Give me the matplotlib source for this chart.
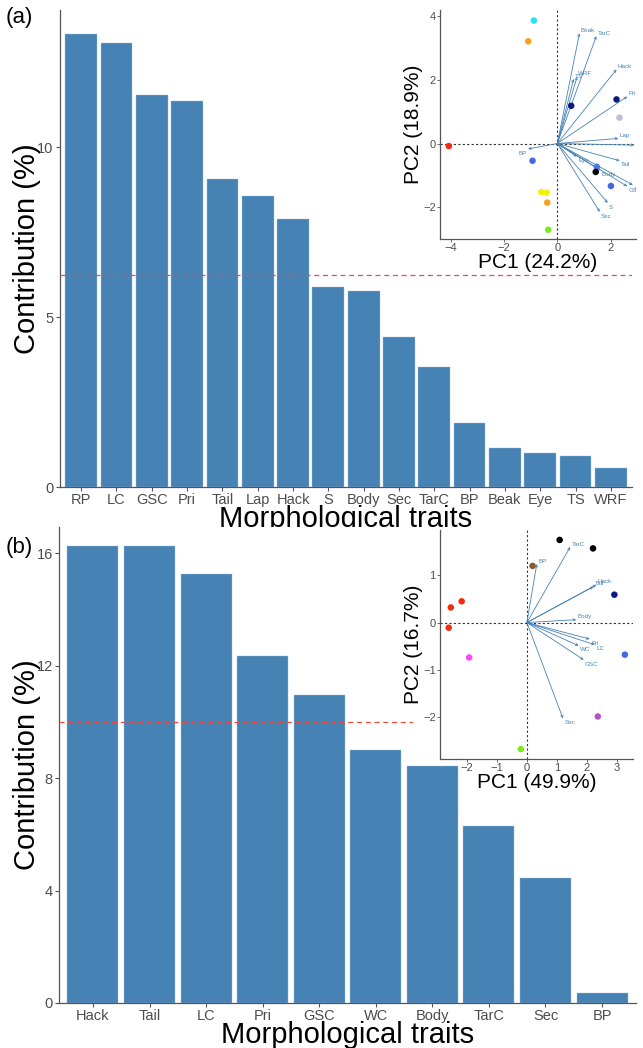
import numpy as np
import matplotlib.pyplot as plt
from matplotlib.patches import Rectangle

plt.rcParams['font.family'] = ['Liberation Sans', 'DejaVu Sans']

# panel (a) contributions
traits_a = ['RP', 'LC', 'GSC', 'Pri', 'Tail', 'Lap', 'Hack', 'S', 'Body', 'Sec',
            'TarC', 'BP', 'Beak', 'Eye', 'TS', 'WRF']
contrib_a = [13.33, 13.06, 11.53, 11.35, 9.07, 8.56, 7.88, 5.89, 5.76, 4.42,
             3.54, 1.87, 1.14, 0.99, 0.91, 0.55]

# panel (b) contributions
traits_b = ['Hack', 'Tail', 'LC', 'Pri', 'GSC', 'WC', 'Body', 'TarC', 'Sec', 'BP']
contrib_b = [16.26, 16.26, 15.26, 12.36, 10.96, 9.0, 8.45, 6.29, 4.44, 0.34]

# PCA inset (a): individuals
pc1_a = [-0.88, -1.09, 0.52, 2.22, 2.33, -4.07, -0.93, 1.48, 1.44, 2.01, -0.60, -0.40, -0.38, -0.34]
pc2_a = [3.85, 3.20, 1.18, 1.38, 0.81, -0.08, -0.54, -0.73, -0.89, -1.33, -1.52, -1.54, -1.85, -2.70]
col_a = ['#27E3EE', '#F8A01C', '#0B1A82', '#0B1A82', '#C6B7D9', '#F52A10', '#4468DE',
         '#4A78E2', '#000000', '#4468DE', '#F4F20A', '#F4F20A', '#F8A01C', '#78EC1A']
# PCA inset (a): variable loadings
var_a = ['Beak', 'TarC', 'TS', 'WRF', 'Hack', 'Pri', 'Lap', 'RP', 'BP', 'Tail',
         'Eye', 'Body', 'LC', 'GSC', 'S', 'Sec']
load1_a = [0.83, 1.46, 0.61, 0.74, 2.22, 2.62, 2.29, 2.87, -1.10, 2.34,
           0.73, 1.61, 2.83, 2.62, 1.89, 1.59]
load2_a = [3.45, 3.36, 2.02, 2.09, 2.32, 1.47, 0.16, -0.05, -0.17, -0.54,
           -0.41, -0.84, -1.30, -1.34, -1.86, -2.14]

# PCA inset (b): individuals
pc1_b = [1.09, 2.20, 0.19, -2.17, -2.53, -2.60, 2.91, -1.92, 3.26, 2.36, -0.20]
pc2_b = [1.75, 1.57, 1.20, 0.45, 0.32, -0.11, 0.59, -0.74, -0.68, -1.99, -2.68]
col_b = ['#000000', '#000000', '#8B5A2B', '#F52A10', '#F52A10', '#F52A10', '#0B1A82',
         '#FF44FF', '#4468DE', '#B452CD', '#78EC1A']
# PCA inset (b): variable loadings
var_b = ['TarC', 'BP', 'Hack', 'Tail', 'Body', 'Pri', 'LC', 'WC', 'GSC', 'Sec']
load1_b = [1.44, 0.33, 2.31, 2.22, 1.64, 2.09, 2.26, 1.72, 1.89, 1.20]
load2_b = [1.60, 1.24, 0.80, 0.76, 0.06, -0.35, -0.47, -0.49, -0.79, -2.03]

BAR = '#4682B4'
GREY = '#4D4D4D'

W, H = 643, 1048
fig = plt.figure(figsize=(W / 100, H / 100), dpi=100)


def fx(px):
    return px / W


def fy(py):
    return 1 - py / H


def bar_panel(left, bottom, right, top, traits, vals, ymax, yticks, ref):
    ax = fig.add_axes([fx(left), fy(bottom), fx(right - left), (bottom - top) / H])
    x = np.arange(len(traits))
    ax.bar(x, vals, width=0.9, color=BAR, edgecolor='#9CC0DE', linewidth=0.3)
    ax.axhline(ref, color='#F04A3A', lw=0.9, ls=(0, (4, 3)), zorder=3)
    ax.set_xlim(-0.6, len(traits) - 0.4)
    ax.set_ylim(0, ymax)
    ax.set_xticks(x)
    ax.set_xticklabels(traits, fontsize=10.5, color=GREY)
    ax.set_yticks(yticks)
    ax.set_yticklabels([str(t) for t in yticks], fontsize=10.5, color=GREY)
    for s in ['top', 'right']:
        ax.spines[s].set_visible(False)
    for s in ['left', 'bottom']:
        ax.spines[s].set_color('#555555')
        ax.spines[s].set_linewidth(0.9)
    ax.tick_params(length=3, width=0.8, color='#555555', pad=1.5)
    ax.set_xlabel('Morphological traits', fontsize=21)
    ax.set_ylabel('Contribution (%)', fontsize=21)
    # label top ~18 px under the axis line, ylabel right edge at x = 41 px
    ax.xaxis.set_label_coords(0.5, -18 / (bottom - top))
    ax.yaxis.set_label_coords((41 - left) / (right - left), 0.5)
    return ax


def pca_inset(rect, p1, p2, cols, names, l1, l2, xlim, ylim, xt, yt, xlab, ylab):
    ax = fig.add_axes(rect)
    ax.set_zorder(3)
    ax.set_facecolor('none')
    ax.axhline(0, color='#333333', lw=0.8, ls=(0, (2, 2)), zorder=1)
    ax.axvline(0, color='#333333', lw=0.8, ls=(0, (2, 2)), zorder=1)
    for n, a, b in zip(names, l1, l2):
        ax.annotate('', xy=(a, b), xytext=(0, 0),
                    arrowprops=dict(arrowstyle='->', color=BAR, lw=0.6,
                                    mutation_scale=4, shrinkA=0, shrinkB=0))
        ax.annotate(n, xy=(a, b), xytext=(1 if a >= 0 else -1, -3 if b < 0 else 2),
                    textcoords='offset points', fontsize=4.5, color=BAR,
                    ha='left' if a >= 0 else 'right', va='center',
                    annotation_clip=False, clip_on=True)
    ax.scatter(p1, p2, c=cols, s=22, zorder=4, linewidths=0)
    ax.set_xlim(*xlim)
    ax.set_ylim(*ylim)
    ax.set_xticks(xt)
    ax.set_xticklabels([str(t).replace('-', '\u2212') for t in xt], fontsize=8, color=GREY)
    ax.set_yticks(yt)
    ax.set_yticklabels([str(t).replace('-', '\u2212') for t in yt], fontsize=8, color=GREY)
    for s in ['top', 'right']:
        ax.spines[s].set_visible(False)
    for s in ['left', 'bottom']:
        ax.spines[s].set_color('#555555')
        ax.spines[s].set_linewidth(0.9)
    ax.tick_params(length=2, width=0.6, color='#555555', pad=1)
    ax.set_xlabel(xlab, fontsize=15, labelpad=0)
    ax.set_ylabel(ylab, fontsize=15, labelpad=0)
    return ax


# panel (a)
bar_panel(60, 487, 632, 10, traits_a, contrib_a, 14.03, [0, 5, 10], 100 / 16)
pca_inset([fx(440), fy(239), fx(196), (239 - 10) / H], pc1_a, pc2_a, col_a,
          var_a, load1_a, load2_a, (-4.4, 2.95), (-2.99, 4.18),
          [-4, -2, 0, 2], [-2, 0, 2, 4], 'PC1 (24.2%)', 'PC2 (18.9%)')

# panel (b)
bar_panel(59, 1003, 636, 527, traits_b, contrib_b, 16.94, [0, 4, 8, 12, 16], 10)
fig.patches.append(Rectangle((fx(413), fy(760)), fx(230), (760 - 532) / H,
                             transform=fig.transFigure, facecolor='white',
                             edgecolor='none', zorder=2))
pca_inset([fx(440), fy(759), fx(193), (759 - 530) / H], pc1_b, pc2_b, col_b,
          var_b, load1_b, load2_b, (-2.89, 3.53), (-2.89, 1.96),
          [-2, -1, 0, 1, 2, 3], [-2, -1, 0, 1], 'PC1 (49.9%)', 'PC2 (16.7%)')

fig.text(fx(6), fy(18), '(a)', fontsize=16, va='center', ha='left')
fig.text(fx(6), fy(548), '(b)', fontsize=16, va='center', ha='left')

fig.savefig('out.png', dpi=100)
